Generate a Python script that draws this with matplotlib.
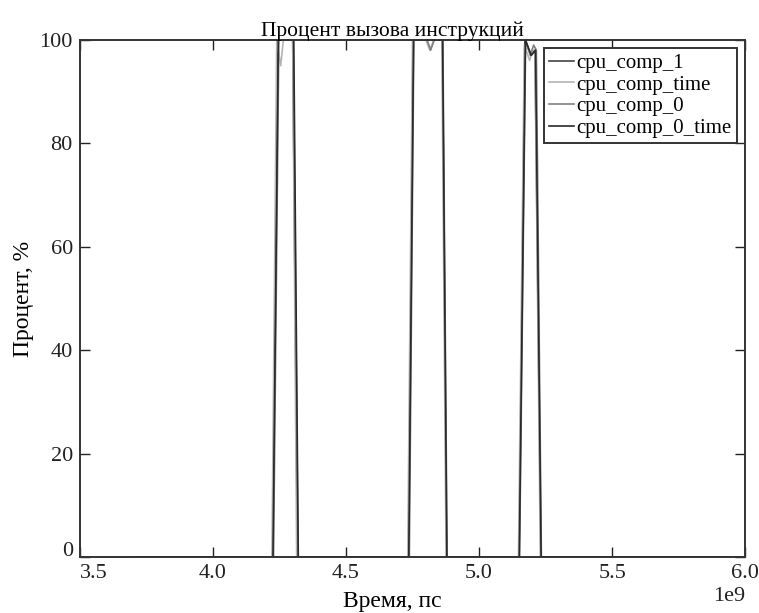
import matplotlib
matplotlib.use("Agg")
import matplotlib.pyplot as plt
import matplotlib.transforms as mtransforms
import numpy as np

plt.rcParams['font.family'] = ['Liberation Serif', 'DejaVu Serif']
plt.rcParams['mathtext.fontset'] = 'stix'

# time in units of 1e9 ps, value in %
t_comp_1 = [3.70, 4.225, 4.245, 4.27, 4.30, 4.318, 4.735, 4.752, 4.80, 4.84, 4.862, 4.878,
            5.150, 5.172, 5.195, 5.210, 5.232, 6.0]
v_comp_1 = [0, 0, 100, 100, 100, 0, 0, 100, 100, 100, 100, 0,
            0, 100, 97, 98, 0, 0]

t_comp_time = [3.50, 4.222, 4.240, 4.255, 4.265, 4.275, 4.300, 4.315, 4.732, 4.750, 4.800,
               4.815, 4.830, 4.860, 4.876, 5.148, 5.170, 5.190, 5.200, 5.210, 5.230, 6.0]
v_comp_time = [0, 0, 100, 95, 100, 100, 100, 0, 0, 100, 100,
               98, 100, 100, 0, 0, 99, 96, 98, 98, 0, 0]

t_comp_0 = [3.70, 4.228, 4.248, 4.27, 4.302, 4.320, 4.738, 4.755, 4.805, 4.818, 4.832, 4.864, 4.880,
            5.152, 5.175, 5.192, 5.205, 5.215, 5.234, 6.0]
v_comp_0 = [0, 0, 100, 100, 100, 0, 0, 100, 100, 98, 100, 100, 0,
            0, 100, 97, 99, 98, 0, 0]

t_comp_0_time = [3.70, 4.226, 4.246, 4.28, 4.304, 4.321, 4.736, 4.754, 4.82, 4.863, 4.879,
                 5.151, 5.174, 5.196, 5.212, 5.233, 6.0]
v_comp_0_time = [0, 0, 100, 100, 100, 0, 0, 100, 100, 100, 0,
                 0, 100, 97, 98, 0, 0]

series = [
    ("cpu_comp_1", t_comp_1, v_comp_1, "#444444"),
    ("cpu_comp_time", t_comp_time, v_comp_time, "#b4b4b4"),
    ("cpu_comp_0", t_comp_0, v_comp_0, "#808080"),
    ("cpu_comp_0_time", t_comp_0_time, v_comp_0_time, "#2a2a2a"),
]

fig = plt.figure(figsize=(7.59, 6.13), dpi=100)
ax = fig.add_axes([0.105, 0.091, 0.877, 0.844])

for name, t, v, c in series:
    ax.plot(np.array(t) * 1e9, v, color=c, lw=1.2, label=name)

ax.set_xlim(3.5e9, 6.0e9)
ax.set_ylim(0, 100)
ax.set_xticks(np.arange(3.5, 6.01, 0.5) * 1e9)
ax.set_yticks([0, 20, 40, 60, 80, 100])

ax.tick_params(direction='in', length=7, width=1, top=True, right=True,
               labelsize=16, pad=5, colors='#222222')
ax.xaxis.get_offset_text().set_fontsize(16)
for s in ax.spines.values():
    s.set_linewidth(1.4)
    s.set_color('#333333')

# nudge the corner labels apart like in the original
lbl = ax.xaxis.get_major_ticks()[0].label1
lbl.set_transform(lbl.get_transform() + mtransforms.ScaledTranslation(0.14, 0, fig.dpi_scale_trans))
lbl = ax.yaxis.get_major_ticks()[0].label1
lbl.set_transform(lbl.get_transform() + mtransforms.ScaledTranslation(0, 0.08, fig.dpi_scale_trans))

ax.set_title("Процент вызова инструкций", fontsize=15.5, pad=3, x=0.47)
ax.set_xlabel("Время, пс", fontsize=17, labelpad=6, x=0.47)
ax.set_ylabel("Процент, %", fontsize=17, labelpad=4)

leg = ax.legend(loc='upper right', fontsize=15, handlelength=1.2, handletextpad=0.1,
                labelspacing=0.1, borderpad=0.25, fancybox=False, framealpha=1,
                borderaxespad=0.4, edgecolor='#333333')
leg.get_frame().set_linewidth(1.4)

fig.savefig("out.png", dpi=100)
